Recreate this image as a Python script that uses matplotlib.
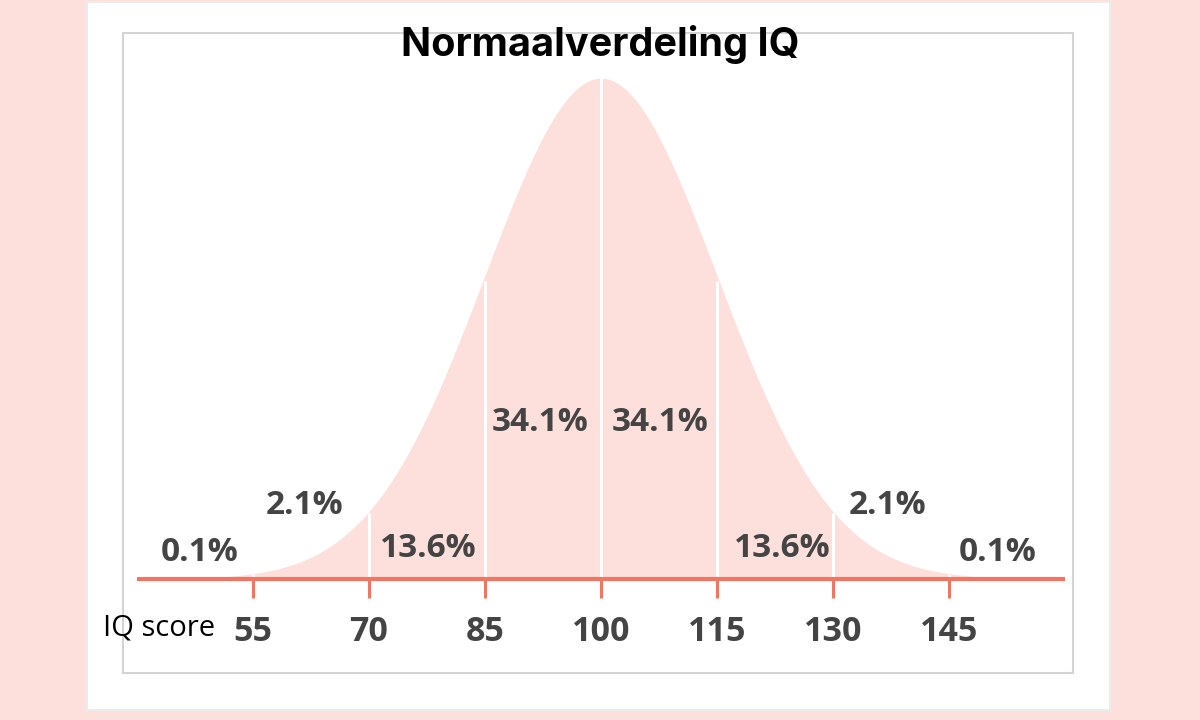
import numpy as np
import matplotlib.pyplot as plt
from matplotlib.patches import Rectangle

# data
mean_iq = 100
sd_iq = 15
tick_scores = [55, 70, 85, 100, 115, 130, 145]
segment_labels = ["0.1%", "2.1%", "13.6%", "34.1%", "34.1%", "13.6%", "2.1%", "0.1%"]
curve_range = [40, 160]

# where the percentage labels sit (x in IQ, y relative to the peak)
label_x = [48.1, 61.7, 77.6, 92.1, 107.6, 123.4, 137.0, 151.3]
label_y = [0.054, 0.148, 0.062, 0.313, 0.313, 0.062, 0.148, 0.054]

pink = "#fde0dc"
salmon = "#f07563"
textgray = "#444444"

def bell(x):
    z = (np.asarray(x) - mean_iq) / sd_iq
    return np.exp(-z ** 2 / 2)

fig = plt.figure(figsize=(12, 7.2), dpi=100, facecolor=pink)

def px_rect(x0, y0, x1, y1, **kw):
    fig.add_artist(Rectangle((x0 / 1200, 1 - y1 / 720), (x1 - x0) / 1200, (y1 - y0) / 720,
                             transform=fig.transFigure, zorder=-5, **kw))

# white card + thin grey frame
px_rect(87, 2, 1110, 710, facecolor="white", edgecolor="#ececec", lw=1.5)
px_rect(123, 33, 1073, 673, facecolor="none", edgecolor="#d4d4d4", lw=1.5)

ax = fig.add_axes([0, 0, 1, 1])
ax.set_facecolor("none")
ax.axis("off")
ax.set_xlim(22.28, 177.46)
ax.set_ylim(-0.281, 1.156)

xs = np.linspace(curve_range[0], curve_range[1], 600)
ax.fill_between(xs, 0, bell(xs), color=pink, lw=0)

# white dividers at each score
ticks = np.array(tick_scores)
tops = bell(ticks) * np.where(ticks == mean_iq, 1.0, 0.98)
ax.vlines(ticks, 0, tops, color="white", lw=2.2)

# axis line and ticks
ax.plot(curve_range, [0, 0], color=salmon, lw=3, solid_capstyle="butt")
ax.vlines(ticks, -0.037, 0, color=salmon, lw=2.2)

for t in tick_scores:
    ax.text(t, -0.106, str(t), ha="center", va="center", fontsize=24.5,
            fontweight="bold", family="Open Sans", color=textgray)

ax.text(35.6, -0.098, "IQ score", ha="left", va="center", fontsize=21,
        family="Open Sans", color="black")

for lab, lx, ly in zip(segment_labels, label_x, label_y):
    ax.text(lx, ly, lab, ha="center", va="center", fontsize=24,
            fontweight="bold", family="Open Sans", color=textgray)

fig.text(0.5, 1 - 45 / 720, "Normaalverdeling IQ", ha="center", va="center",
         fontsize=28.5, fontweight="bold", family="Inter", color="black")

fig.savefig("out.png", dpi=100, facecolor=pink)
